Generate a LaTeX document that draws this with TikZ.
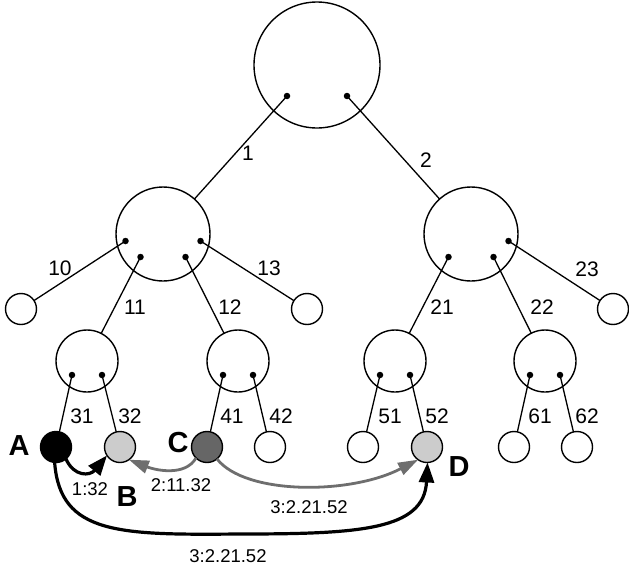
\documentclass[tikz,border=0pt]{standalone}
\usepackage{fontspec}
\setmainfont{Liberation Sans}
\usetikzlibrary{arrows.meta,calc}
\definecolor{lightg}{HTML}{CCCCCC}
\definecolor{darkg}{HTML}{666666}
\definecolor{arrg}{HTML}{6E6E6E}
\begin{document}
\begin{tikzpicture}[x=1pt,y=-1pt,
  tnode/.style={circle,draw=black,line width=1.4pt,inner sep=0pt,outer sep=0pt},
  rootnode/.style={tnode,minimum size=126pt},
  midnode/.style={tnode,minimum size=94pt},
  lvlnode/.style={tnode,minimum size=62pt},
  leaf/.style={tnode,minimum size=31pt,fill=white},
  dotpt/.style={circle,fill=black,inner sep=0pt,minimum size=6.5pt},
  edge/.style={line width=1.3pt},
  num/.style={font=\fontsize{21}{21}\selectfont,inner sep=0pt},
  letter/.style={font=\fontsize{29}{29}\selectfont\bfseries,inner sep=0pt},
  alabel/.style={font=\fontsize{18.5}{18.5}\selectfont,inner sep=0pt},
  blackarrow/.style={line width=3.2pt,-{Triangle[length=20pt,width=15pt]}},
  grayarrow/.style={line width=2.8pt,draw=arrg,-{Triangle[length=20pt,width=13pt]}}
]
\useasboundingbox (0,0) rectangle (629,570);

% tree nodes
\node[rootnode] (root) at (317,65) {};
\node[midnode] (L) at (163,234) {};
\node[midnode] (R) at (471,234) {};
\node[lvlnode] (P3) at (87,361) {};
\node[lvlnode] (P4) at (238,361) {};
\node[lvlnode] (P5) at (395,361) {};
\node[lvlnode] (P6) at (545,361) {};
\node[leaf] (n10) at (21,309) {};
\node[leaf] (n13) at (307,309) {};
\node[leaf] (n23) at (613,309) {};
\node[leaf,fill=black] (A) at (56,447) {};
\node[leaf,fill=lightg] (B) at (120,447) {};
\node[leaf,fill=darkg] (C) at (207,447) {};
\node[leaf] (n42) at (270,447) {};
\node[leaf] (n51) at (363,447) {};
\node[leaf,fill=lightg] (D) at (427,447) {};
\node[leaf] (n61) at (514,447) {};
\node[leaf] (n62) at (577,447) {};

% dots
\node[dotpt] (r1) at ($(root)+(-30,31)$) {};
\node[dotpt] (r2) at ($(root)+(30,31)$) {};
\node[dotpt] (l0) at ($(L)+(-37.5,7)$) {};
\node[dotpt] (l1) at ($(L)+(-22.5,23)$) {};
\node[dotpt] (l2) at ($(L)+(22.5,23)$) {};
\node[dotpt] (l3) at ($(L)+(37.5,7)$) {};
\node[dotpt] (m1) at ($(R)+(-22.5,23)$) {};
\node[dotpt] (m2) at ($(R)+(22.5,23)$) {};
\node[dotpt] (m3) at ($(R)+(37.5,7)$) {};
\node[dotpt] (p31) at ($(P3)+(-15,14)$) {};
\node[dotpt] (p32) at ($(P3)+(15,14)$) {};
\node[dotpt] (p41) at ($(P4)+(-15,14)$) {};
\node[dotpt] (p42) at ($(P4)+(15,14)$) {};
\node[dotpt] (p51) at ($(P5)+(-15,14)$) {};
\node[dotpt] (p52) at ($(P5)+(15,14)$) {};
\node[dotpt] (p61) at ($(P6)+(-15,14)$) {};
\node[dotpt] (p62) at ($(P6)+(15,14)$) {};

% edges
\draw[edge] (r1.center) -- (L);
\draw[edge] (r2.center) -- (R);
\draw[edge] (l0.center) -- (n10);
\draw[edge] (l1.center) -- (P3);
\draw[edge] (l2.center) -- (P4);
\draw[edge] (l3.center) -- (n13);
\draw[edge] (m1.center) -- (P5);
\draw[edge] (m2.center) -- (P6);
\draw[edge] (m3.center) -- (n23);
\draw[edge] (p31.center) -- (A);
\draw[edge] (p32.center) -- (B);
\draw[edge] (p41.center) -- (C);
\draw[edge] (p42.center) -- (n42);
\draw[edge] (p51.center) -- (n51);
\draw[edge] (p52.center) -- (D);
\draw[edge] (p61.center) -- (n61);
\draw[edge] (p62.center) -- (n62);

% edge labels
\node[num] (e1) at (248,153) {1};
\node[num] (e2) at (426,160) {2};
\node[num] (e10) at (60,268) {10};
\node[num] (e13) at (269,268) {13};
\node[num] (e23) at (587,269) {23};
\node[num] (e11) at (135,307) {11};
\node[num] (e12) at (230,307) {12};
\node[num] (e21) at (442,307) {21};
\node[num] (e22) at (542,307) {22};
\node[num] (e31) at (82,416) {31};
\node[num] (e32) at (130,416) {32};
\node[num] (e41) at (232,416) {41};
\node[num] (e42) at (281,416) {42};
\node[num] (e51) at (390,416) {51};
\node[num] (e52) at (437,416) {52};
\node[num] (e61) at (540,416) {61};
\node[num] (e62) at (587,416) {62};

% letters
\node[letter] (lA) at (19,446) {A};
\node[letter] (lB) at (127,497) {B};
\node[letter] (lC) at (178,443) {C};
\node[letter] (lD) at (459,467) {D};

% routing arrows
\draw[grayarrow] (C.-135) .. controls (185,477) and (155,470) .. (B.-55);
\draw[grayarrow] (C.-50) .. controls (245,495) and (350,495) .. (D.-125);
\draw[blackarrow] (A.-50) .. controls (74,477) and (90,476) .. (B.-147);
\draw[blackarrow] (A.-95) .. controls (60,535) and (120,535) .. (240,534) .. controls (360,534) and (424,530) .. (D.-88);

% arrow labels
\node[alabel] (t1) at (90,489) {1:32};
\node[alabel] (t2) at (181,485) {2:11.32};
\node[alabel] (t3) at (309,507) {3:2.21.52};
\node[alabel] (t4) at (228,556) {3:2.21.52};
\end{tikzpicture}
\end{document}
